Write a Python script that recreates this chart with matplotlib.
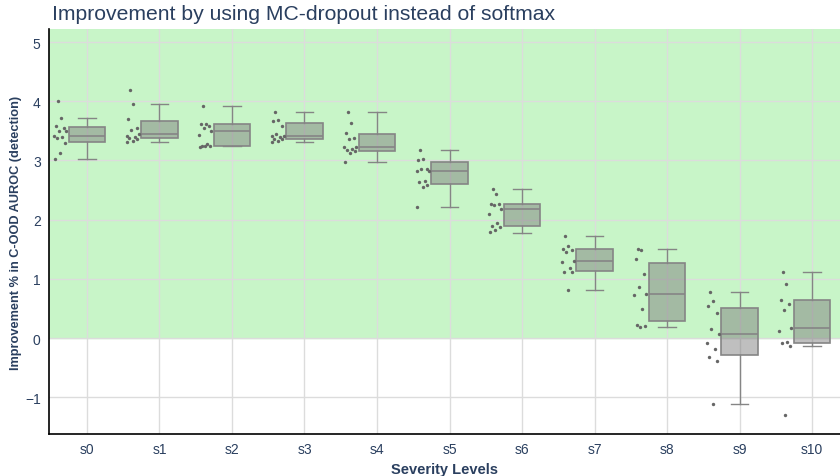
import numpy as np
import matplotlib
matplotlib.use('Agg')
import matplotlib.pyplot as plt

plt.rcParams['font.family'] = ['Liberation Sans', 'DejaVu Sans']

# Categories
levels = ['s0', 's1', 's2', 's3', 's4', 's5', 's6', 's7', 's8', 's9', 's10']

# Individual points per severity level
pts_s0 = [4.00, 3.71, 3.58, 3.54, 3.50, 3.49, 3.41, 3.40, 3.38, 3.29, 3.13, 3.03]
pts_s1 = [4.19, 3.95, 3.70, 3.55, 3.52, 3.45, 3.41, 3.40, 3.38, 3.36, 3.33, 3.32]
pts_s2 = [3.92, 3.62, 3.61, 3.59, 3.54, 3.50, 3.43, 3.27, 3.25, 3.24, 3.24, 3.23]
pts_s3 = [3.82, 3.68, 3.66, 3.59, 3.44, 3.42, 3.41, 3.40, 3.37, 3.36, 3.33, 3.32]
pts_s4 = [3.81, 3.64, 3.46, 3.38, 3.37, 3.23, 3.22, 3.19, 3.18, 3.16, 3.13, 2.98]
pts_s5 = [3.18, 3.02, 3.01, 2.86, 2.85, 2.83, 2.82, 2.66, 2.63, 2.58, 2.55, 2.21]
pts_s6 = [2.52, 2.43, 2.27, 2.26, 2.25, 2.18, 2.09, 1.94, 1.90, 1.87, 1.83, 1.80]
pts_s7 = [1.73, 1.55, 1.51, 1.49, 1.45, 1.30, 1.28, 1.19, 1.12, 1.11, 0.81]
pts_s8 = [1.51, 1.48, 1.33, 1.08, 0.86, 0.74, 0.72, 0.49, 0.22, 0.21, 0.19]
pts_s9 = [0.77, 0.62, 0.54, 0.42, 0.15, 0.07, -0.09, -0.19, -0.32, -0.39, -1.12]
pts_s10 = [1.11, 0.91, 0.65, 0.58, 0.47, 0.17, 0.12, -0.06, -0.08, -0.14, -1.30]
points = [pts_s0, pts_s1, pts_s2, pts_s3, pts_s4, pts_s5, pts_s6, pts_s7, pts_s8, pts_s9, pts_s10]

# Box statistics (as drawn in the picture)
q1 = [3.31, 3.38, 3.24, 3.37, 3.16, 2.60, 1.90, 1.13, 0.29, -0.29, -0.08]
med = [3.41, 3.44, 3.49, 3.42, 3.23, 2.83, 2.18, 1.30, 0.74, 0.07, 0.17]
q3 = [3.56, 3.66, 3.61, 3.64, 3.45, 2.97, 2.27, 1.50, 1.27, 0.50, 0.64]
whis_lo = [3.03, 3.31, 3.24, 3.32, 2.98, 2.21, 1.77, 0.81, 0.19, -1.12, -0.14]
whis_hi = [3.71, 3.95, 3.92, 3.82, 3.81, 3.18, 2.52, 1.73, 1.51, 0.77, 1.11]

# fixed jitter pattern for the points (left of each box)
jitter = [0.30, 0.55, 0.15, 0.80, 0.40, 0.95, 0.05, 0.65, 0.25, 0.85, 0.50, 0.10]

title_col = '#2a3f5f'

fig = plt.figure(figsize=(8.4, 4.77), dpi=100)
ax = fig.add_axes([49/840, 1-435/477, 1-49/840, (435-30)/477])

x = np.arange(len(levels))
ax.set_xlim(-0.524, 10.386)
ax.set_ylim(-1.62, 5.22)

# green region above zero
ax.axhspan(0, 6, color='#c8f5c8', zorder=0)

stats = []
for i in range(len(levels)):
    stats.append(dict(med=med[i], q1=q1[i], q3=q3[i], whislo=whis_lo[i], whishi=whis_hi[i], fliers=[]))

ax.bxp(stats, positions=x, widths=0.5, patch_artist=True, showfliers=False,
       boxprops=dict(facecolor=(0.5, 0.5, 0.5, 0.5), edgecolor='#858585', linewidth=1.2),
       medianprops=dict(color='#858585', linewidth=1.2),
       whiskerprops=dict(color='#858585', linewidth=1.0),
       capprops=dict(color='#858585', linewidth=1.0),
       capwidths=0.24, zorder=3)

for i, vals in enumerate(points):
    offs = np.array(jitter[:len(vals)])
    xs = x[i] - 0.46 + offs * 0.18
    ax.scatter(xs, vals, s=6, color='#666666', zorder=4, linewidths=0)

ax.set_xticks(x)
ax.set_xticklabels(levels)
ax.set_yticks([-1, 0, 1, 2, 3, 4, 5])
ax.grid(True, color='#dcdcdc', linewidth=1)
ax.set_axisbelow(True)
ax.tick_params(length=0, pad=6, labelsize=10, colors=title_col)
for s in ['top', 'right']:
    ax.spines[s].set_visible(False)
for s in ['left', 'bottom']:
    ax.spines[s].set_color('black')
    ax.spines[s].set_linewidth(1.2)

ax.set_xlabel('Severity Levels', fontsize=10.5, fontweight='bold', color=title_col, labelpad=4)
ax.set_ylabel('Improvement % in C-OOD AUROC (detection)', fontsize=9.2, fontweight='bold',
              color=title_col, labelpad=2)

fig.text(52/840, 1-15/477, 'Improvement by using MC-dropout instead of softmax',
         fontsize=15.2, color=title_col, va='center', ha='left')

fig.savefig('out.png', dpi=100)
